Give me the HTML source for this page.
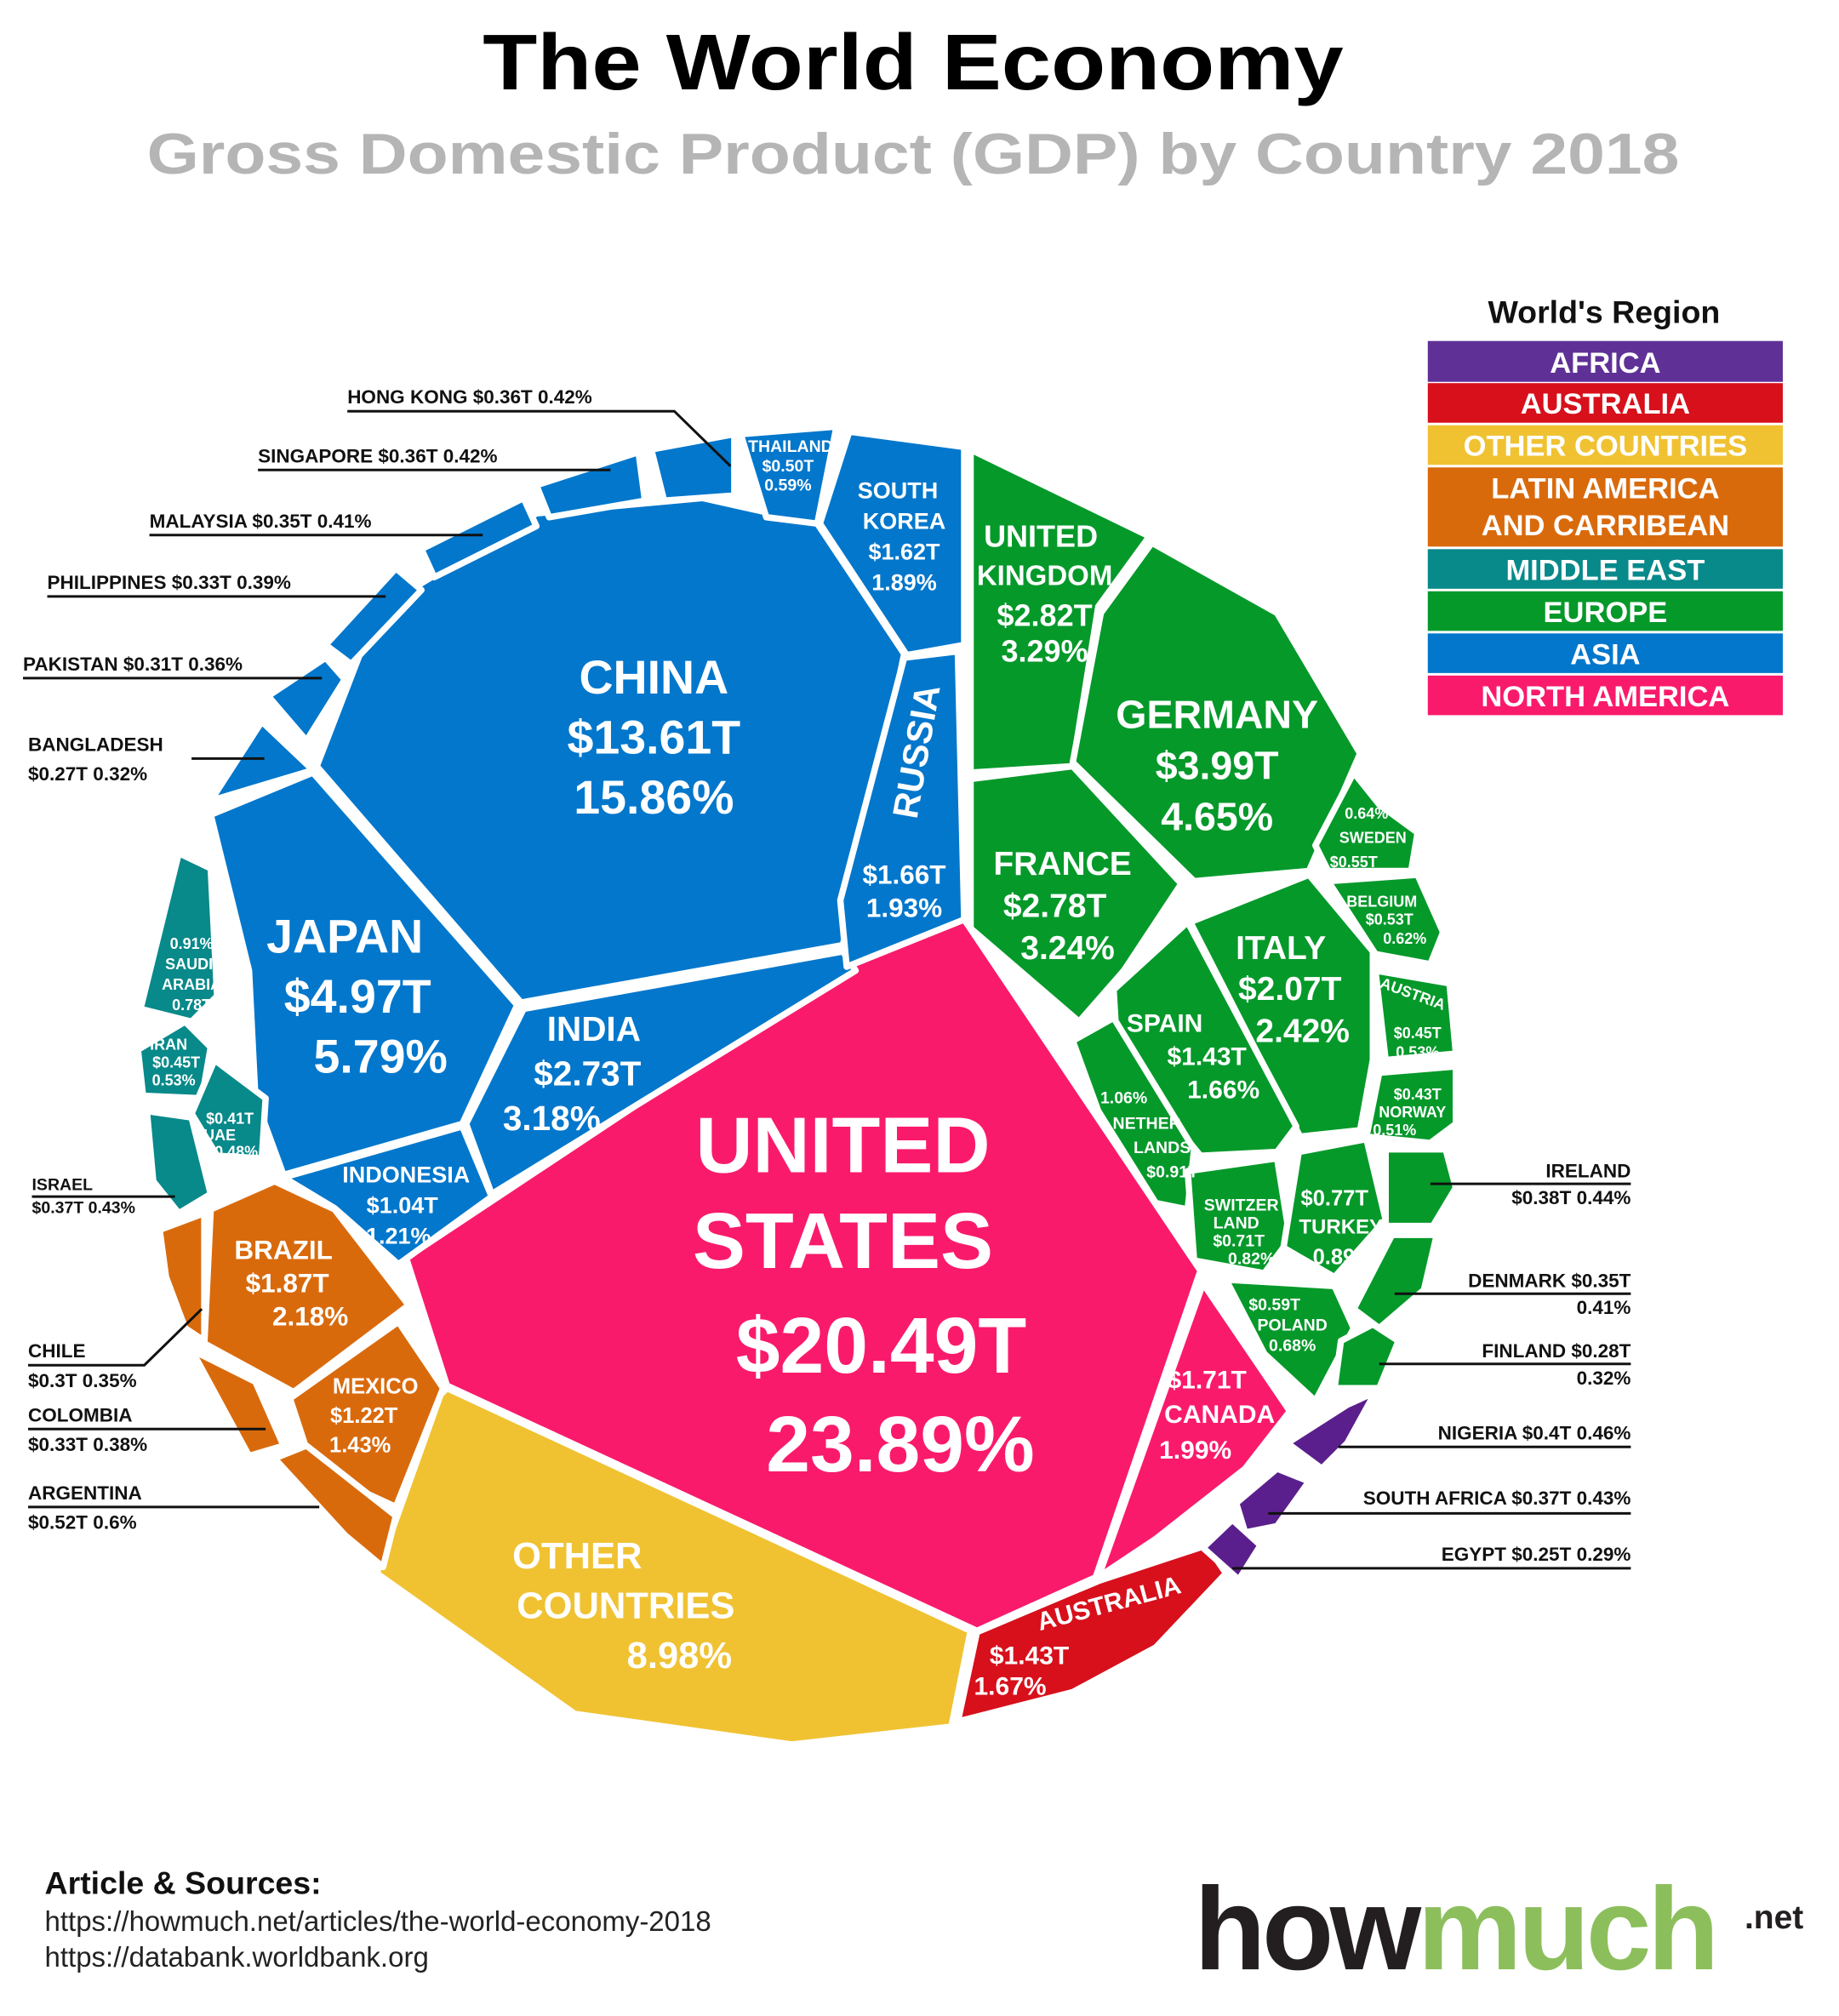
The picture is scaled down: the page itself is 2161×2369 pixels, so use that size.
<!DOCTYPE html>
<html><head><meta charset="utf-8"><style>
html,body{margin:0;padding:0;background:#fff}
svg{display:block}
text{font-family:"Liberation Sans",sans-serif;font-weight:bold}
.p{stroke:#fff;stroke-width:5;stroke-linejoin:round}
.w{fill:#fff;text-anchor:middle}
.k{fill:#111;font-size:15px}
.l{stroke:#111;stroke-width:2;fill:none}
.n{font-weight:normal}
</style></head><body>
<svg width="2161" height="2369" viewBox="0 0 1440 1578.6" xmlns="http://www.w3.org/2000/svg">
<rect width="1440" height="1579" fill="#fff"/>
<text x="378" y="70" font-size="62" fill="#000" textLength="674" lengthAdjust="spacingAndGlyphs">The World Economy</text>
<text x="115" y="136" font-size="45" fill="#b5b5b5" textLength="1200" lengthAdjust="spacingAndGlyphs">Gross Domestic Product (GDP) by Country 2018</text>

<!-- legend -->
<text x="1256" y="253" text-anchor="middle" font-size="25" fill="#111">World's Region</text>
<g font-size="23" text-anchor="middle" fill="#fff">
<rect x="1118" y="267" width="278" height="32" fill="#5f3197"/><text x="1257" y="292">AFRICA</text>
<rect x="1118" y="300" width="278" height="31" fill="#d7101c"/><text x="1257" y="324">AUSTRALIA</text>
<rect x="1118" y="333" width="278" height="31" fill="#f0c232"/><text x="1257" y="357">OTHER COUNTRIES</text>
<rect x="1118" y="366" width="278" height="62" fill="#d96a0c"/><text x="1257" y="390">LATIN AMERICA</text><text x="1257" y="419">AND CARRIBEAN</text>
<rect x="1118" y="430" width="278" height="31" fill="#08898a"/><text x="1257" y="454">MIDDLE EAST</text>
<rect x="1118" y="463" width="278" height="31" fill="#05992a"/><text x="1257" y="487">EUROPE</text>
<rect x="1118" y="496" width="278" height="31" fill="#0277cc"/><text x="1257" y="520">ASIA</text>
<rect x="1118" y="529" width="278" height="31" fill="#fa1a6c"/><text x="1257" y="553">NORTH AMERICA</text>
</g>

<!-- polygons -->
<g class="p">
<polygon fill="#fa1a6c" points="318,985 660,758 755,720 940,995 858,1235 765,1277 350,1085"/>
<polygon fill="#fa1a6c" points="942,1005 1010,1105 975,1150 905,1205 860,1235"/>
<polygon fill="#d7101c" points="765,1278 860,1238 945,1210 960,1232 905,1290 840,1325 750,1348"/>
<polygon fill="#f0c232" points="350,1087 760,1277 745,1352 620,1366 450,1342 295,1232 345,1092"/>
<polygon fill="#0277cc" points="248,600 295,478 420,402 550,390 640,410 708,512 660,740 408,785"/>
<polygon fill="#0277cc" points="165,638 245,605 405,787 362,880 222,920 200,860 195,760"/>
<polygon fill="#0277cc" points="410,790 660,745 670,760 385,935 365,880"/>
<polygon fill="#0277cc" points="222,922 362,882 385,937 312,990 262,946"/>
<polygon fill="#0277cc" points="708,515 750,510 755,720 663,757 658,705"/>
<polygon fill="#0277cc" points="642,410 665,338 755,350 755,505 710,513"/>
<polygon fill="#0277cc" points="580,340 655,334 640,410 600,405"/>
<polygon fill="#0277cc" points="510,352 575,340 575,388 520,392"/>
<polygon fill="#0277cc" points="420,380 500,354 505,392 430,405"/>
<polygon fill="#0277cc" points="330,430 410,390 420,412 340,452"/>
<polygon fill="#0277cc" points="255,505 310,445 330,462 275,520"/>
<polygon fill="#0277cc" points="210,545 255,515 270,532 240,580"/>
<polygon fill="#0277cc" points="165,627 205,565 245,603"/>
<polygon fill="#08898a" points="110,790 140,668 165,680 170,780 150,800"/>
<polygon fill="#08898a" points="108,822 145,800 165,820 158,860 112,858"/>
<polygon fill="#08898a" points="150,872 168,830 208,860 205,907 170,905"/>
<polygon fill="#08898a" points="115,870 150,875 165,935 140,950 120,925"/>
<polygon fill="#d96a0c" points="165,947 215,925 262,947 320,1022 230,1090 160,1052"/>
<polygon fill="#d96a0c" points="125,963 160,950 160,1050 145,1040 130,1000"/>
<polygon fill="#d96a0c" points="150,1057 200,1082 222,1132 195,1140"/>
<polygon fill="#d96a0c" points="227,1095 312,1035 347,1087 310,1180 245,1150"/>
<polygon fill="#d96a0c" points="215,1142 240,1132 310,1187 300,1227 270,1202"/>
<polygon fill="#05992a" points="760,352 900,420 860,475 840,600 760,605"/>
<polygon fill="#05992a" points="902,425 1000,480 1065,590 1025,682 935,690 840,597 862,480"/>
<polygon fill="#05992a" points="760,610 840,600 925,692 880,760 845,800 760,727"/>
<polygon fill="#05992a" points="932,722 1025,685 1075,745 1075,830 1065,885 1018,890"/>
<polygon fill="#05992a" points="872,775 930,722 1015,882 1000,902 940,905 875,825"/>
<polygon fill="#05992a" points="840,815 872,797 935,900 930,947 905,942 860,870"/>
<polygon fill="#05992a" points="930,917 1000,907 1010,970 990,997 935,987"/>
<polygon fill="#05992a" points="1017,902 1070,892 1085,955 1045,1000 1005,977"/>
<polygon fill="#05992a" points="960,1002 1045,1007 1060,1040 1030,1097 990,1060"/>
<polygon fill="#05992a" points="1030,662 1060,605 1080,630 1110,652 1105,682 1040,682"/>
<polygon fill="#05992a" points="1040,690 1110,685 1130,730 1120,755 1077,747"/>
<polygon fill="#05992a" points="1077,760 1135,770 1140,825 1085,830"/>
<polygon fill="#05992a" points="1080,840 1140,835 1140,880 1120,895 1070,890"/>
<polygon fill="#05992a" points="1085,900 1132,900 1140,930 1122,960 1085,960"/>
<polygon fill="#05992a" points="1090,967 1125,967 1115,1010 1080,1040 1060,1025"/>
<polygon fill="#05992a" points="1050,1050 1075,1037 1095,1050 1080,1087 1045,1087"/>
<polygon fill="#5a1f8c" points="1008,1130 1055,1100 1077,1090 1055,1130 1035,1150"/>
<polygon fill="#5a1f8c" points="968,1177 1000,1150 1025,1160 1000,1195 975,1200"/>
<polygon fill="#5a1f8c" points="942,1212 965,1190 987,1210 970,1237"/>
</g>

<!-- in-shape labels -->
<g class="w">
<text x="660" y="918" font-size="62">UNITED</text><text x="660" y="993" font-size="62">STATES</text>
<text x="690" y="1075" font-size="62">$20.49T</text><text x="705" y="1152" font-size="62">23.89%</text>
<text x="512" y="543" font-size="37">CHINA</text><text x="512" y="590" font-size="37">$13.61T</text><text x="512" y="637" font-size="37">15.86%</text>
<text x="270" y="746" font-size="37">JAPAN</text><text x="280" y="793" font-size="37">$4.97T</text><text x="298" y="840" font-size="37">5.79%</text>
<text x="465" y="815" font-size="27">INDIA</text><text x="460" y="850" font-size="27">$2.73T</text><text x="432" y="885" font-size="27">3.18%</text>
<text x="318" y="926" font-size="18">INDONESIA</text><text x="315" y="950" font-size="18">$1.04T</text><text x="312" y="974" font-size="18">1.21%</text>
<text x="708" y="692" font-size="21">$1.66T</text><text x="708" y="718" font-size="21">1.93%</text>
<text x="0" y="0" font-size="28" transform="translate(727,590) rotate(-80)">RUSSIA</text>
<text x="703" y="390" font-size="18">SOUTH</text><text x="708" y="414" font-size="18">KOREA</text><text x="708" y="438" font-size="18">$1.62T</text><text x="708" y="462" font-size="18">1.89%</text>
<text x="619" y="354" font-size="13">THAILAND</text><text x="617" y="369" font-size="13">$0.50T</text><text x="617" y="384" font-size="13">0.59%</text>
<text x="815" y="428" font-size="24">UNITED</text><text x="818" y="458" font-size="22">KINGDOM</text><text x="818" y="490" font-size="24">$2.82T</text><text x="818" y="518" font-size="24">3.29%</text>
<text x="953" y="570" font-size="31">GERMANY</text><text x="953" y="610" font-size="31">$3.99T</text><text x="953" y="650" font-size="31">4.65%</text>
<text x="832" y="685" font-size="26">FRANCE</text><text x="826" y="718" font-size="26">$2.78T</text><text x="836" y="751" font-size="26">3.24%</text>
<text x="1003" y="751" font-size="26">ITALY</text><text x="1010" y="783" font-size="26">$2.07T</text><text x="1020" y="816" font-size="26">2.42%</text>
<text x="912" y="808" font-size="20">SPAIN</text><text x="945" y="834" font-size="20">$1.43T</text><text x="958" y="860" font-size="20">1.66%</text>
<text x="880" y="864" font-size="13">1.06%</text><text x="898" y="884" font-size="13">NETHER</text><text x="910" y="903" font-size="13">LANDS</text><text x="918" y="922" font-size="13">$0.91T</text>
<text x="972" y="948" font-size="13">SWITZER</text><text x="968" y="962" font-size="13">LAND</text><text x="970" y="976" font-size="13">$0.71T</text><text x="980" y="990" font-size="13">0.82%</text>
<text x="1045" y="944" font-size="17">$0.77T</text><text x="1050" y="966" font-size="16">TURKEY</text><text x="1052" y="990" font-size="17">0.89%</text>
<text x="998" y="1026" font-size="13">$0.59T</text><text x="1012" y="1042" font-size="13">POLAND</text><text x="1012" y="1058" font-size="13">0.68%</text>
<text x="1070" y="641" font-size="12">0.64%</text><text x="1075" y="660" font-size="12">SWEDEN</text><text x="1060" y="679" font-size="12">$0.55T</text>
<text x="1082" y="710" font-size="12">BELGIUM</text><text x="1088" y="724" font-size="12">$0.53T</text><text x="1100" y="739" font-size="12">0.62%</text>
<text x="1105" y="782" font-size="12" transform="rotate(20 1105 782)">AUSTRIA</text><text x="1110" y="813" font-size="12">$0.45T</text><text x="1110" y="828" font-size="12">0.53%</text>
<text x="1110" y="861" font-size="12">$0.43T</text><text x="1106" y="875" font-size="12">NORWAY</text><text x="1092" y="889" font-size="12">0.51%</text>
<text x="945" y="1087" font-size="20">$1.71T</text><text x="955" y="1114" font-size="20">CANADA</text><text x="936" y="1142" font-size="20">1.99%</text>
<text x="0" y="0" font-size="20" transform="translate(870,1262) rotate(-15)">AUSTRALIA</text>
<text x="806" y="1303" font-size="20">$1.43T</text><text x="791" y="1327" font-size="20">1.67%</text>
<text x="452" y="1228" font-size="29">OTHER</text><text x="490" y="1267" font-size="29">COUNTRIES</text><text x="532" y="1306" font-size="29">8.98%</text>
<text x="222" y="986" font-size="21">BRAZIL</text><text x="225" y="1012" font-size="21">$1.87T</text><text x="243" y="1038" font-size="21">2.18%</text>
<text x="294" y="1091" font-size="17">MEXICO</text><text x="285" y="1114" font-size="17">$1.22T</text><text x="282" y="1137" font-size="17">1.43%</text>
<text x="150" y="743" font-size="12">0.91%</text><text x="148" y="759" font-size="12">SAUDI</text><text x="150" y="775" font-size="12">ARABIA</text><text x="150" y="791" font-size="12">0.78T</text>
<text x="132" y="822" font-size="12">IRAN</text><text x="138" y="836" font-size="12">$0.45T</text><text x="136" y="850" font-size="12">0.53%</text>
<text x="180" y="880" font-size="12">$0.41T</text><text x="172" y="893" font-size="12">UAE</text><text x="185" y="906" font-size="12">0.48%</text>
</g>

<!-- external labels -->
<g class="k">
<text x="272" y="316">HONG KONG  $0.36T  0.42%</text><polyline class="l" points="272,322 528,322 572,365"/>
<text x="202" y="362">SINGAPORE $0.36T  0.42%</text><polyline class="l" points="202,368 478,368"/>
<text x="117" y="413">MALAYSIA  $0.35T   0.41%</text><polyline class="l" points="117,419 378,419"/>
<text x="37" y="461">PHILIPPINES $0.33T  0.39%</text><polyline class="l" points="37,467 302,467"/>
<text x="18" y="525">PAKISTAN $0.31T  0.36%</text><polyline class="l" points="18,531 252,531"/>
<text x="22" y="588">BANGLADESH</text><text x="22" y="611">$0.27T  0.32%</text><polyline class="l" points="150,594 207,594"/>
<text x="25" y="932" font-size="13">ISRAEL</text><text x="25" y="950" font-size="13">$0.37T 0.43%</text><polyline class="l" points="25,937 137,937"/>
<text x="22" y="1063">CHILE</text><text x="22" y="1086">$0.3T  0.35%</text><polyline class="l" points="22,1069 113,1069 158,1025"/>
<text x="22" y="1113">COLOMBIA</text><text x="22" y="1136">$0.33T 0.38%</text><polyline class="l" points="22,1119 208,1119"/>
<text x="22" y="1174">ARGENTINA</text><text x="22" y="1197">$0.52T 0.6%</text><polyline class="l" points="22,1180 250,1180"/>
<g text-anchor="end">
<text x="1277" y="922">IRELAND</text><text x="1277" y="943">$0.38T 0.44%</text><polyline class="l" points="1120,927 1277,927"/>
<text x="1277" y="1008">DENMARK $0.35T</text><text x="1277" y="1029">0.41%</text><polyline class="l" points="1092,1013 1277,1013"/>
<text x="1277" y="1063">FINLAND  $0.28T</text><text x="1277" y="1084">0.32%</text><polyline class="l" points="1080,1068 1277,1068"/>
<text x="1277" y="1127">NIGERIA $0.4T 0.46%</text><polyline class="l" points="1048,1133 1277,1133"/>
<text x="1277" y="1178">SOUTH AFRICA $0.37T 0.43%</text><polyline class="l" points="993,1185 1277,1185"/>
<text x="1277" y="1222">EGYPT $0.25T  0.29%</text><polyline class="l" points="965,1228 1277,1228"/>
</g>
</g>

<!-- footer -->
<text x="35" y="1483" font-size="25" fill="#111">Article &amp; Sources:</text>
<text x="35" y="1512" font-size="22" fill="#222" class="n">https://howmuch.net/articles/the-world-economy-2018</text>
<text x="35" y="1540" font-size="22" fill="#222" class="n">https://databank.worldbank.org</text>
<text x="935" y="1542" font-size="92" fill="#231f20" letter-spacing="-3">how<tspan fill="#8cbf5c">much</tspan></text>
<text x="1366" y="1510" font-size="26" fill="#231f20">.net</text>
</svg>
</body></html>
